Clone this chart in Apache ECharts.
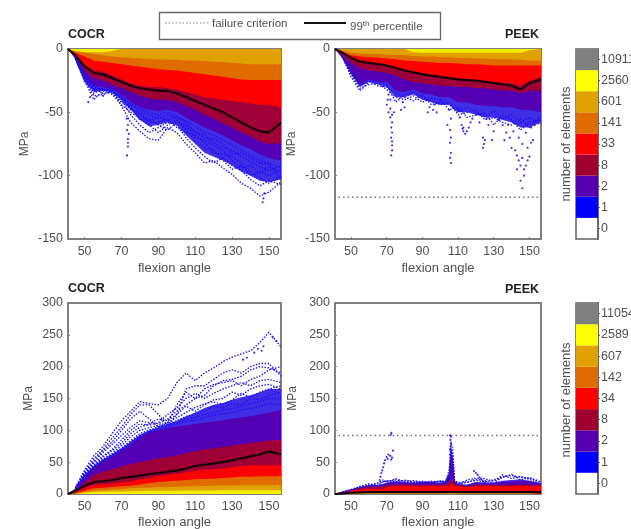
<!DOCTYPE html>
<html><head><meta charset="utf-8">
<style>html,body{margin:0;padding:0;background:#fff;overflow:hidden}#c{width:631px;height:529px;filter:blur(0.7px)}</style>
<script src="https://cdn.jsdelivr.net/npm/echarts@6/dist/echarts.min.js"></script>
</head><body><div id="c"></div>
<script>
const _ = null;
const angleTicks = [50,70,90,110,130,150];
const angles = [41,45,50,55,60,65,70,75,80,85,90,95,100,105,110,115,120,125,130,135,140,145,150,156.5];
const anglesP4 = [41,45,50,55,60,65,68,70,75,80,85,90,95,100,103,105,106,107,108,110,115,120,125,130,135,140,145,150,156.5];
const bandColors = {purple:'#5400b4',crimson:'#a00038',red:'#ff0000',orange:'#e06c00',amber:'#e0a000',yellow:'#f4ee00'};
const blue = '#1a10f0';
const barColors = ['rgba(255,255,255,0)','#0000ff','#5500b0','#a00030','#ff0000','#e06c00','#e0a000','#ffff00','#808080'];
const barLabelsTop = ['0','1','2','8','33','141','601','2560','10911'];
const barLabelsBottom = ['0','1','2','8','34','142','607','2589','11054'];

// Panel 1: COCR, compressive
const p1Black = [0,-5,-14,-19,-20,-23,-26,-29,-31,-32,-33,-33,-35,-38,-41,-44,-47,-50,-54,-58,-62,-65,-66,-58];
const p1Yellow = [0,-1.5,-2.5,-2.5,-2.5,-1.5,0,0,0,0,0,0,0,0,0,0,0,0,0,0,0,0,0,0];
const p1Amber = [0,-2,-3,-4,-5,-6,-6.5,-7,-7.5,-8,-8,-8.5,-8.5,-9,-9,-9.5,-10,-10.5,-11,-11.5,-12,-12,-12,-12];
const p1Orange = [0,-3,-6,-9,-10,-11,-12,-13,-14,-15,-16,-16.5,-17,-18,-19,-20,-21,-22,-23,-24,-24.5,-24.5,-24.5,-24.5];
const p1Red = [0,-4,-12,-17,-18,-21,-24,-27,-29,-30,-30,-31,-32,-34,-36,-38,-39,-40,-41,-42,-43,-44,-44,-46];
const p1Crimson = [0,-6,-17,-23,-25,-28,-31,-34,-37,-39,-40,-40,-42,-45,-48,-52,-55,-59,-62,-66,-69,-73,-75,-74];
const p1Purple = [0,-7,-22,-29,-30,-32,-36,-42,-46,-48,-49,-48,-50,-54,-58,-62,-65,-68,-72,-76,-79,-83,-86,-88];
const p1Haze = [0,-8,-25,-34,-33,-34,-40,-48,-56,-61,-60,-58,-60,-68,-75,-82,-85,-88,-92,-97,-100,-104,-105,-103];
const p1Traces = [
 [_,-8,-25,-40,-33,-32,-45,-58,-65,-71,-72,-62,-66,-75,-82,-90,-88,-94,-99,-106,-110,-116,-113,-105],
 [_,-8,-24,-37,-36,-33,-40,-52,-60,-66,-62,-58,-60,-70,-78,-85,-90,-86,-92,-96,-103,-108,-104,-107],
 [_,-7,-26,-33,-32,-36,-44,-50,-55,-60,-66,-60,-56,-64,-72,-78,-80,-88,-95,-92,-97,-102,-106,-100],
 [_,-7,-23,-31,-35,-34,-38,-47,-52,-58,-58,-55,-62,-66,-68,-74,-82,-83,-85,-90,-100,-97,-100,-95],
 [_,-7,-22,-35,-31,-35,-42,-45,-56,-55,-60,-64,-58,-60,-70,-72,-76,-80,-88,-94,-92,-98,-93,-97],
 [_,-7,-23,-30,-33,-33,-37,-44,-49,-52,-55,-52,-55,-63,-65,-68,-74,-78,-80,-85,-89,-93,-96,-92],
 [_,-7,-24,-32,-31,-34,-41,-48,-50,-57,-53,-57,-53,-58,-66,-70,-71,-75,-83,-82,-86,-90,-91,-102],
 [_,-7,-22,-29,-32,-32,-39,-43,-47,-50,-52,-50,-54,-57,-61,-66,-68,-72,-76,-80,-84,-88,-90,-94]
];
const p1Dots = [[73,-55],[73.5,-60],[73,-64],[74,-67],[73.5,-71],[73.5,-74],[73.5,-77],[73,-84],[147,-118],[147.5,-114],[146.5,-121],[60,-37],[52,-42],[53,-38]];
const p1Flecks = [[92.6,-52],[98,-57],[105.6,-66],[113,-74],[123,-77],[131,-85],[140.8,-95],[148,-85],[155,-95],[82,-46],[88,-55],[95,-48],[101,-52],[108,-60],[112,-66],[118,-72],[126,-74],[135,-88],[138,-82],[144,-92],[152,-98],[150,-90],[128,-80],[120,-66],[103,-60],[91,-60],[85,-52],[78,-47]];

// Panel 2: PEEK, compressive
const p2Black = [0,-3,-7,-10,-11,-12,-13,-15,-17,-18.5,-20,-21,-22,-23,-24,-24.5,-25,-26,-27,-28,-29,-32,-27,-24];
const p2Yellow = [0,0,0,0,0,0,0,0,0,-2.5,-3,-3,-3,-3,-3,-3,-3,-3,-3,-3,-3,-3,-1,0];
const p2Amber = [0,-1,-3,-3.5,-4,-4,-4.5,-4.5,-5,-5.5,-6,-6,-6.5,-6.5,-7,-7,-7.5,-7.5,-8,-8,-8,-8.5,-9,-9];
const p2Orange = [0,-2,-5,-6,-6.5,-7,-7.5,-8,-9,-9.5,-10,-10.5,-11,-11,-11.5,-12,-12,-12.5,-13,-13,-13,-13,-13,-13];
const p2Red = [0,-3,-6.5,-9.5,-10.5,-11.5,-12.5,-14.5,-16.5,-18,-19.5,-20.5,-21.5,-22.5,-23,-24,-24.5,-25,-26,-26.5,-27,-29,-25,-22];
const p2Crimson = [0,-5,-11,-15,-17,-18,-19,-21,-24,-26,-27,-28,-29,-29,-30,-30,-31,-31,-32,-33,-33,-35,-33,-33];
const p2Purple = [0,-7,-18,-28,-24,-26,-26,-33,-34,-32,-35,-36,-38,-38,-42,-42,-44,-45,-45,-46,-46,-48,-48,-50];
const p2Haze = [0,-7,-20,-30,-26,-28,-30,-38,-38,-36,-40,-42,-44,-44,-50,-50,-52,-54,-54,-56,-58,-62,-62,-58];
const p2Traces = [
 [_,-6,-22,-33,-26,-25,-28,-42,-36,-34,-38,-41,-44,-42,-52,-50,-48,-56,-54,-58,-60,-55,-62,-52],
 [_,-6,-20,-31,-28,-27,-32,-38,-40,-37,-42,-39,-40,-48,-46,-54,-52,-50,-60,-52,-56,-64,-58,-56],
 [_,-6,-19,-29,-25,-29,-30,-35,-38,-41,-36,-44,-42,-44,-50,-46,-50,-53,-49,-55,-52,-58,-54,-60]
];
const p2Dots = [[71,-36],[72,-40],[70,-44],[72,-47],[71,-50],[73,-52],[72,-54],[74,-50],[70.5,-40],[73,-58],[72.5,-62],[73,-66],[72.5,-70],[73,-73],[73,-76],[73,-80],[72.5,-84],[79,-42],[80,-46],[78,-48],[94,-46],[96,-48],[98,-50],[93,-50],[99,-43],[97,-44],[105,-48],[106,-55],[104,-60],[105.5,-64],[106,-70],[105.5,-74],[106,-82],[105.5,-86],[106,-90],[110,-48],[111,-54],[112,-60],[113,-65],[114,-67],[115,-65],[116,-62],[117,-58],[118,-55],[113,-62],[112.5,-63],[124,-70],[124.5,-75],[125,-72],[124,-78],[130,-65],[127,-60],[122,-58],[135,-60],[133,-56],[146,-110],[145,-104],[147,-100],[143,-95],[148,-92],[144,-88],[150,-85],[146,-86],[142,-80],[149,-78],[152,-72],[140,-78],[146,-75],[151,-62],[153,-60],[141,-65],[138,-60],[144,-70],[148,-66],[155,-56],[147,-95],[145,-92],[149,-88],[143,-84],[151,-74],[139,-70],[137,-66],[129,-72],[126,-55],[120,-52],[136,-72]];
const p2Flecks = [[70,-33],[77,-37],[84,-40],[92,-43],[100,-46],[108,-48],[114,-50],[121,-49],[128,-52],[134,-50],[141,-53],[148,-55],[153,-50]];
const p2Failure = [[43,-117],[156.5,-117]];

// Panel 3: COCR, tensile
const p3Black = [0,5,13,19,20,22,25,27,29,31,33,35,37,40,44,46,48,50,53,56,59,62,67,62];
const p3Yellow = [0,0,2,3,3.5,4,4,4.5,4.5,5,5,5,5,5.5,5.5,5.5,5.5,6,6,6,6,6,6,6];
const p3Amber = [0,0,3,5,6,7,8,9,10,10,11,11,11.5,12,12,12.5,13,13,13.5,14,14,14,14,14];
const p3Orange = [0,1,5,9,10,11,12,13,15,17,19,20,21,22,23,23.5,24,25,26,27,27,28,28,28];
const p3Red = [0,3,10,14,15,16,18,20,23,25,28,30,32,34,37,38,39,40,42,44,45,45,45,45];
const p3Crimson = [0,6,18,30,35,39,43,47,50,53,56,58,61,64,67,70,72,74,76,78,80,82,84,85];
const p3Purple = [0,8,28,42,52,60,68,78,90,97,100,104,106,108,110,112,114,116,118,120,122,125,128,132];
const p3Haze = [0,9,30,44,54,63,72,82,93,100,105,110,115,122,128,135,140,143,148,152,155,160,165,165];
const p3Traces = [
 [_,10,38,60,75,95,115,130,145,142,140,150,175,190,178,190,198,208,215,220,225,238,254,231],
 [_,10,35,55,70,88,105,125,140,140,125,108,125,165,170,170,180,190,195,190,200,205,205,185],
 [_,9,33,52,68,82,100,118,130,118,105,112,140,160,150,155,170,178,180,185,195,200,198,190],
 [_,9,32,50,65,78,92,105,115,112,110,118,130,140,150,165,172,175,178,170,180,185,195,200],
 [_,9,31,48,60,70,85,100,110,108,112,125,135,150,158,150,158,165,170,175,170,178,180,175],
 [_,9,30,45,58,68,80,95,105,110,118,115,125,138,130,140,148,150,160,155,165,170,172,165],
 [_,8,30,44,55,64,76,90,100,104,108,112,120,128,136,142,145,140,148,158,152,160,165,170],
 [_,8,29,43,54,62,72,84,95,100,106,110,115,122,125,130,138,135,142,140,150,148,155,160],
 [_,8,29,42,53,61,70,82,92,98,104,108,112,118,120,125,128,132,134,138,142,145,150,150],
 [_,8,28,42,52,60,69,80,91,97,102,106,110,114,116,120,124,126,128,132,134,138,142,140]
];
const p3Dots = [[144,228],[146,225],[142,222],[147,232],[138,214],[136,211],[152,246],[154,240]];
const p3Flecks = [[110,85],[112,84],[108,84],[101,100],[120,110],[125,118],[132,102],[140,108],[147,100],[152,110],[118,132],[128,140],[136,140],[144,148],[150,120],[93,92],[85,85],[78,78],[72,70],[115,150],[125,165],[138,165],[103,125],[98,118],[153,150]];

// Panel 4: PEEK, tensile
const p4Black = [0,1,2,2.5,3,3,3,3,3,3,3,3,3,3,3,3,3,3,3,3,3,3,3,3,3,3,3,3,3];
const p4Yellow = [0,0,0,0,0,0,0,0,0,0,0,0,0,0,0,1,3,1,0,0,0,0,0,0,0,0,0,0,0];
const p4Amber = [0,0.5,1,1,1,1.5,1.5,2,2,2,2,2,2,2,2,3,4,3,2,2,2,2,2,2,2,2,2,2,2];
const p4Orange = [0,1,1.5,2,2.5,3,3,3,3,3,3,3,3,3,3,4,5,4,3,3,3,3,3,3,3,3,3,3,3];
const p4Red = [0,2,5,7,8,8,8,11,12,12,12,12,12,12,12,12,16,14,12,12,11,12,12,12,12,12,12,12,12];
const p4Crimson = [0,3,7,10,11,11,12,14,14,15,14,14,15,14,15,18,24,22,16,14,12,14,14,14,14,14,15,14,14];
const p4Purple = [0,3,7,11,13,13,15,17,19,18,17,18,18,17,18,32,65,55,20,15,13,18,17,17,19,20,21,20,16];
const p4Traces = [
 [_,3,7,12,16,13,20,21,19,22,19,18,19,20,18,25,40,45,20,16,18,23,21,17,27,29,26,25,17],
 [_,3,6,11,13,18,22,18,24,19,18,20,17,21,19,38,72,62,22,15,22,25,24,20,30,24,28,23,15],
 [_,3,7,10,14,16,19,20,22,20,21,19,20,19,21,30,82,70,21,18,19,21,19,22,26,31,22,26,19]
];
const p4Dots = [[66,22],[66.5,27],[67,33],[67.5,37],[68,42],[68.5,48],[69,53],[70,58],[71,62],[70.5,55],[72,60],[72.5,54],[73,57],[73.5,68],[72.6,96],[72.2,93],[105.5,62],[106,66],[105.5,70],[105.8,75],[106,80],[105.7,85],[106,90],[105.5,92],[119,36],[120,33],[121,30],[122,26],[123,23],[124,20],[125,18]];
const p4Flecks = [];
const p4Failure = [[43,92],[156.5,92]];
const p4Haze = [0,3,7,11,14,14,16,18,20,19,18,19,19,18,20,34,70,60,21,16,15,19,18,18,21,22,23,21,17];

const panels = [
 {name:'COCR',left:68,top:49,width:213,height:190,min:-150,max:0,nameGap:37,angles,black:p1Black,haze:p1Haze,flecks:p1Flecks,bands:{purple:p1Purple,crimson:p1Crimson,red:p1Red,orange:p1Orange,amber:p1Amber,yellow:p1Yellow},traces:p1Traces,dots:p1Dots},
 {name:'PEEK',left:335,top:49,width:206,height:190,min:-150,max:0,nameGap:37,angles,black:p2Black,haze:p2Haze,flecks:p2Flecks,bands:{purple:p2Purple,crimson:p2Crimson,red:p2Red,orange:p2Orange,amber:p2Amber,yellow:p2Yellow},traces:p2Traces,dots:p2Dots,failure:p2Failure},
 {name:'COCR',left:68,top:303,width:213,height:191,min:0,max:300,nameGap:33,angles,black:p3Black,haze:p3Haze,flecks:p3Flecks,bands:{purple:p3Purple,crimson:p3Crimson,red:p3Red,orange:p3Orange,amber:p3Amber,yellow:p3Yellow},traces:p3Traces,dots:p3Dots},
 {name:'PEEK',left:335,top:303,width:206,height:191,min:0,max:300,nameGap:36,angles:anglesP4,black:p4Black,haze:p4Haze,flecks:p4Flecks,bands:{purple:p4Purple,crimson:p4Crimson,red:p4Red,orange:p4Orange,amber:p4Amber,yellow:p4Yellow},traces:p4Traces,dots:p4Dots,failure:p4Failure}
];

const font = 'Liberation Sans';
const textCol = '#505050';
const axisCol = '#808080';
const grid=[], xAxis=[], yAxis=[], series=[];
panels.forEach((p,i)=>{
  grid.push({left:p.left,top:p.top,width:p.width,height:p.height,outerBoundsMode:'none',show:true,borderColor:axisCol,borderWidth:2,backgroundColor:'#fff'});
  xAxis.push({type:'value',gridIndex:i,min:41,max:156.5,name:'flexion angle',nameLocation:'middle',nameGap:i<2?23:22,
    nameTextStyle:{color:textCol,fontFamily:font,fontSize:13},
    axisLine:{show:true,onZero:false,lineStyle:{color:axisCol,width:2}},
    axisTick:{show:true,inside:true,length:2,lineStyle:{color:axisCol},customValues:angleTicks},
    axisLabel:{color:textCol,fontFamily:font,fontSize:12.5,margin:6,customValues:angleTicks},
    splitLine:{show:false}});
  yAxis.push({type:'value',gridIndex:i,min:p.min,max:p.max,interval:50,name:'MPa',nameLocation:'middle',nameGap:p.nameGap,
    nameTextStyle:{color:textCol,fontFamily:font,fontSize:12},
    axisLine:{show:true,onZero:false,lineStyle:{color:axisCol,width:2}},
    axisTick:{show:true,inside:true,length:2,lineStyle:{color:axisCol}},
    axisLabel:{color:textCol,fontFamily:font,fontSize:12.5,margin:5},
    splitLine:{show:false}});
  const zip = a=>p.angles.map((x,k)=>[x,a[k]]);
  const base={xAxisIndex:i,yAxisIndex:i,silent:true,animation:false};
  series.push({...base,type:'line',data:zip(p.haze),showSymbol:false,lineStyle:{width:0},areaStyle:{color:'#2810e4',opacity:.88}});
  p.traces.forEach(t=>series.push({...base,type:'line',data:zip(t),showSymbol:false,lineStyle:{color:blue,width:1.3,type:[1.5,1.5]}}));
  series.push({...base,type:'scatter',data:p.flecks,symbolSize:3,itemStyle:{color:'#fff',opacity:.9}});
  series.push({...base,type:'scatter',data:p.dots,symbolSize:2.2,itemStyle:{color:blue,opacity:.85}});
  Object.keys(p.bands).forEach(k=>series.push({...base,type:'line',data:zip(p.bands[k]),showSymbol:false,
    lineStyle:{width:0},areaStyle:{color:bandColors[k],opacity:1}}));
  series.push({...base,type:'line',data:zip(p.black),showSymbol:false,lineStyle:{color:'#1a0008',width:2.2}});
  if(p.failure) series.push({...base,type:'line',data:p.failure,showSymbol:false,lineStyle:{color:'#707070',width:1.5,type:[1.5,3]}});
});
// Colour bars
[[barLabelsTop,49,190],[barLabelsBottom,303,191]].forEach(([labels,top,height],j)=>{
  const g=4+j;
  grid.push({left:576,top,width:22,height,outerBoundsMode:'none',show:true,borderColor:'#606060',borderWidth:1.5,backgroundColor:'#fff'});
  xAxis.push({type:'value',gridIndex:g,min:0,max:1,show:false});
  yAxis.push({type:'category',gridIndex:g,position:'right',data:labels,
    axisLine:{show:true,onZero:false,lineStyle:{color:'#606060',width:1.5}},
    axisTick:{show:true,alignWithLabel:true,length:2,lineStyle:{color:'#606060'}},
    axisLabel:{color:textCol,fontFamily:font,fontSize:12.5,margin:3}});
  series.push({type:'bar',xAxisIndex:g,yAxisIndex:g,silent:true,animation:false,barWidth:'100%',
    data:labels.map((l,k)=>({value:1,itemStyle:{color:barColors[k]}}))});
});

const titleStyle={color:'#222',fontFamily:font,fontSize:12.5,fontWeight:'bold'};
const titles=[
  {text:'COCR',left:68,top:28,padding:0,textStyle:titleStyle},
  {text:'PEEK',left:505,top:28,padding:0,textStyle:titleStyle},
  {text:'COCR',left:68,top:282,padding:0,textStyle:titleStyle},
  {text:'PEEK',left:505,top:283,padding:0,textStyle:titleStyle}
];
const legendText={fontFamily:font,fontSize:11.5,fill:textCol};
const graphic=[
  {type:'rect',shape:{x:159.5,y:12.5,width:281,height:27},style:{fill:'#fff',stroke:'#666',lineWidth:1.3}},
  {type:'line',shape:{x1:165,y1:23,x2:210,y2:23},style:{stroke:'#888',lineWidth:1.2,lineDash:[1.5,2]}},
  {type:'text',x:212,y:24,style:{...legendText,text:'failure criterion',textVerticalAlign:'middle'}},
  {type:'line',shape:{x1:304,y1:23,x2:346,y2:23},style:{stroke:'#111',lineWidth:2.2}},
  {type:'text',x:350,y:27,style:{...legendText,text:'99{s|th} percentile',textVerticalAlign:'middle',
     rich:{s:{fontFamily:font,fontSize:8,fill:textCol,verticalAlign:'top',padding:[0,0,7,0]}}}},
  {type:'text',x:566,y:144,rotation:Math.PI/2,style:{...legendText,fontSize:13,text:'number of elements',textAlign:'center',textVerticalAlign:'middle'}},
  {type:'text',x:566,y:400,rotation:Math.PI/2,style:{...legendText,fontSize:13,text:'number of elements',textAlign:'center',textVerticalAlign:'middle'}}
];
const chart=echarts.init(document.getElementById('c'),null,{renderer:'canvas',width:631,height:529});
chart.setOption({animation:false,backgroundColor:'#fff',title:titles,grid,xAxis,yAxis,series,graphic});
</script></body></html>
